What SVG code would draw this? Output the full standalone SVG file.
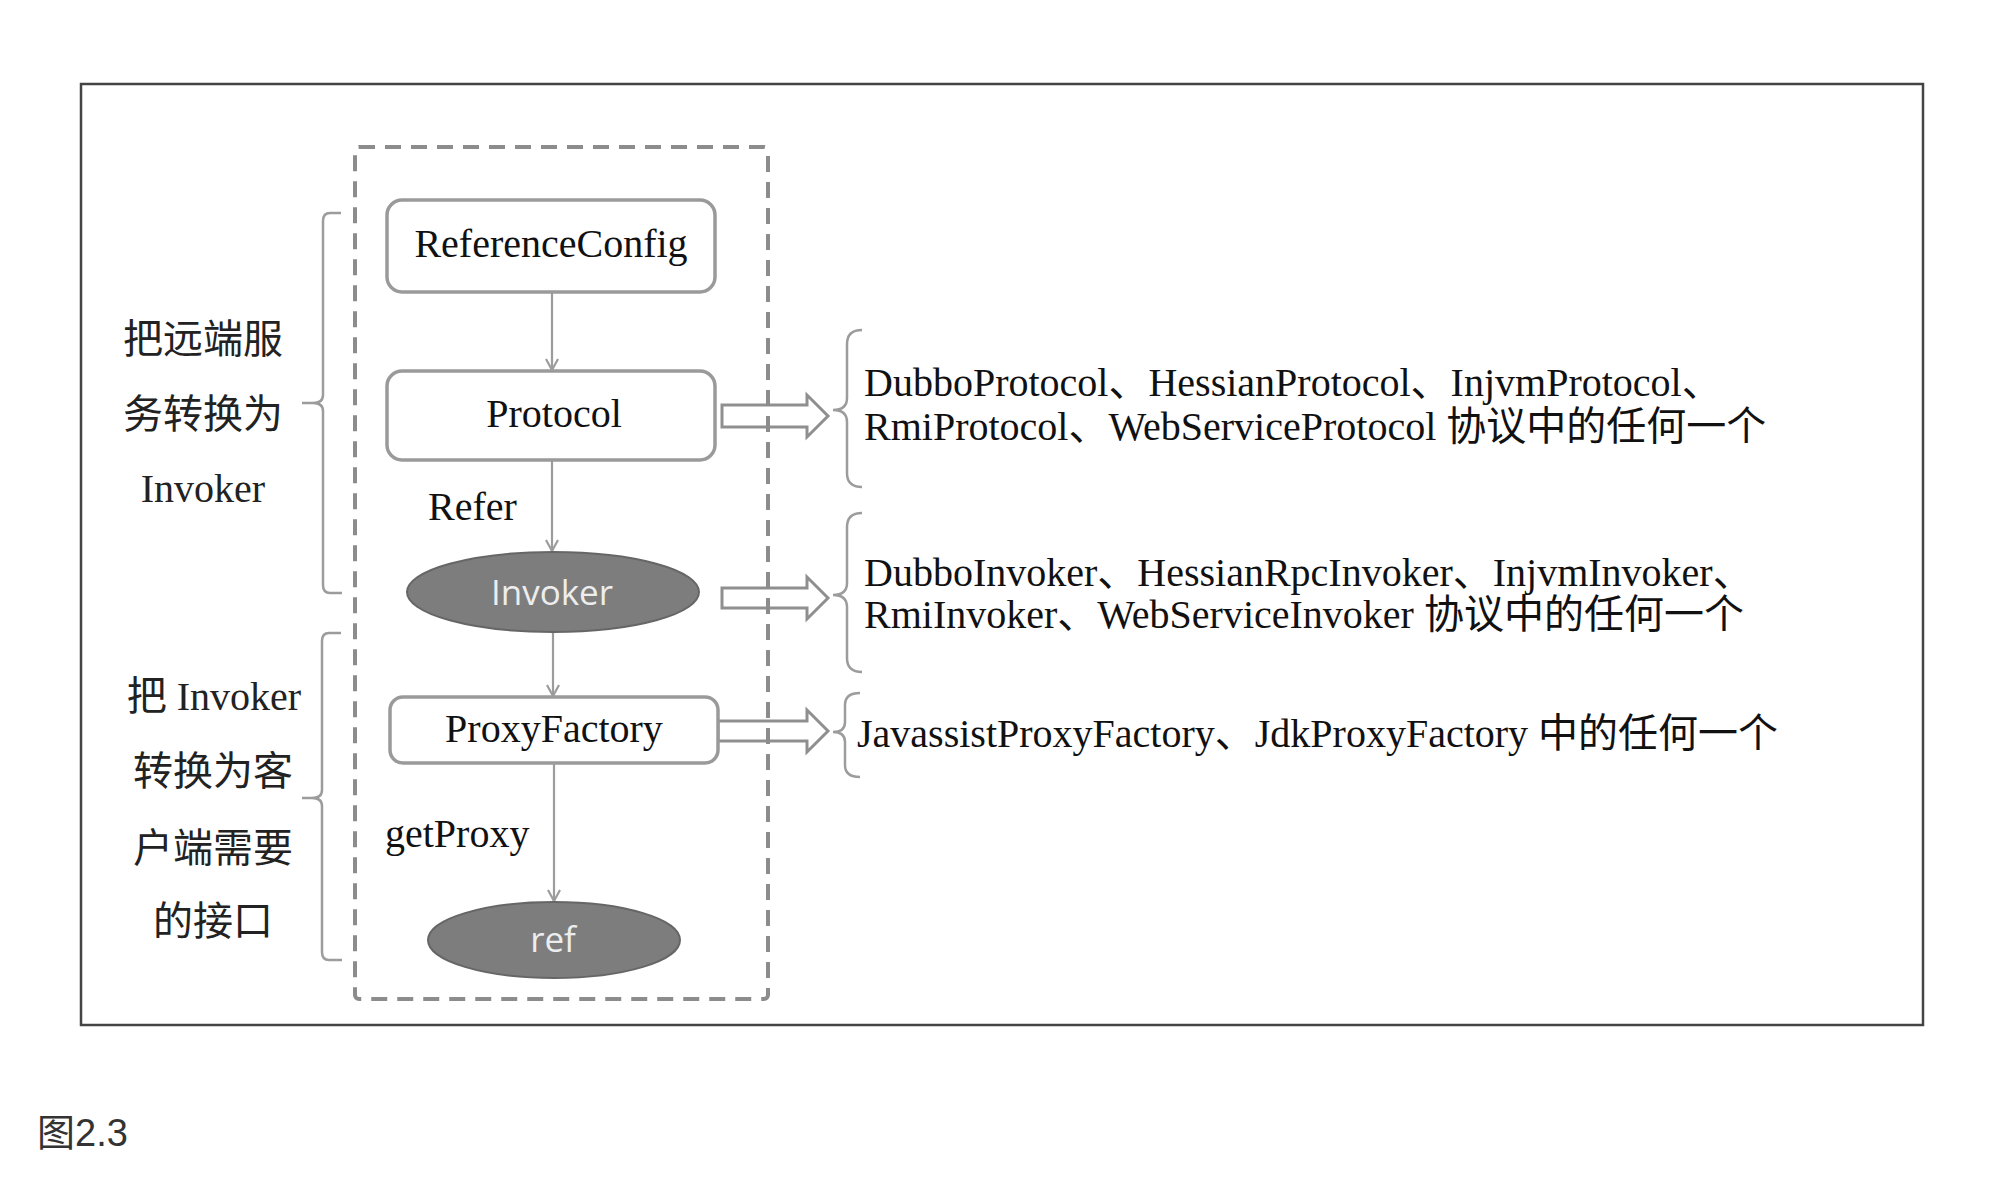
<svg xmlns="http://www.w3.org/2000/svg" width="1992" height="1180" viewBox="0 0 1992 1180">
<style>
  .serif { font-family: "Liberation Serif", "Noto Sans CJK SC", serif; font-size: 40px; fill: #111; }
  .cjk { font-family: "Liberation Serif", "Noto Sans CJK SC", serif; font-size: 40px; fill: #222; }
  .box { fill: #fff; stroke: #9a9a9a; stroke-width: 3.5; }
  .ell { fill: #7d7d7d; stroke: #666; stroke-width: 2; }
  .elltext { font-family: "Open Sans", "Liberation Sans", sans-serif; font-size: 35px; fill: #ededed; }
  .conn { stroke: #9c9c9c; stroke-width: 2.2; fill: none; }
  .brace { stroke: #9c9c9c; stroke-width: 2.5; fill: none; }
  .block { fill: #fff; stroke: #8f8f8f; stroke-width: 3; stroke-linejoin: miter; }
</style>
<defs>
  <marker id="vee" markerUnits="userSpaceOnUse" markerWidth="16" markerHeight="16" viewBox="0 0 16 16" refX="14" refY="8" orient="auto">
    <path d="M3,2 L14,8 L3,14" fill="none" stroke="#9c9c9c" stroke-width="2.2"/>
  </marker>
</defs>
<rect x="0" y="0" width="1992" height="1180" fill="#fff"/>
<rect x="81" y="84" width="1842" height="941" fill="none" stroke="#444" stroke-width="2.5"/>

<g id="left-labels">
  <g id="label-group1">
    <path class="brace" d="M341,213 H330 Q323,213 323,221 V395 Q323,403 313,403 H302 M313,403 Q323,403 323,411 V585 Q323,593 330,593 H342"/>
    <text class="cjk" x="203" y="353" text-anchor="middle">把远端服</text>
    <text class="cjk" x="203" y="428" text-anchor="middle">务转换为</text>
    <text class="cjk" x="203" y="502" text-anchor="middle">Invoker</text>
  </g>
  <g id="label-group2">
    <path class="brace" d="M341,633 H329 Q322,633 322,641 V790 Q322,798 312,798 H302 M312,798 Q322,798 322,806 V952 Q322,960 329,960 H342"/>
    <text class="cjk" x="214" y="710" text-anchor="middle">把 Invoker</text>
    <text class="cjk" x="213" y="785" text-anchor="middle">转换为客</text>
    <text class="cjk" x="213" y="862" text-anchor="middle">户端需要</text>
    <text class="cjk" x="213" y="935" text-anchor="middle">的接口</text>
  </g>
</g>

<g id="connectors">
  <line class="conn" x1="552" y1="292" x2="552" y2="370" marker-end="url(#vee)"/>
  <line class="conn" x1="552" y1="460" x2="552" y2="551" marker-end="url(#vee)"/>
  <line class="conn" x1="553" y1="632" x2="553" y2="696" marker-end="url(#vee)"/>
  <line class="conn" x1="554" y1="763" x2="554" y2="901" marker-end="url(#vee)"/>
  <text class="serif" x="428" y="520">Refer</text>
  <text class="serif" x="385" y="847">getProxy</text>
  <polygon class="block" points="722,405 807,405 807,395 828,416 807,437 807,427 722,427"/>
  <polygon class="block" points="722,588 807,588 807,577 828,598 807,619 807,608 722,608"/>
  <polygon class="block" points="718,721 807,721 807,710 828,731 807,752 807,741 718,741"/>
</g>

<g id="node-referenceconfig">
  <rect class="box" x="387" y="200" width="328" height="92" rx="15"/>
  <text class="serif" x="551" y="257" text-anchor="middle">ReferenceConfig</text>
</g>
<g id="node-protocol">
  <rect class="box" x="387" y="371" width="328" height="89" rx="15"/>
  <text class="serif" x="554" y="427" text-anchor="middle">Protocol</text>
</g>
<g id="node-invoker">
  <ellipse class="ell" cx="553" cy="592" rx="146" ry="40"/>
  <text class="elltext" x="552" y="605" text-anchor="middle">Invoker</text>
</g>
<g id="node-proxyfactory">
  <rect class="box" x="390" y="697" width="328" height="66" rx="13"/>
  <text class="serif" x="554" y="742" text-anchor="middle">ProxyFactory</text>
</g>
<g id="node-ref">
  <ellipse class="ell" cx="554" cy="940" rx="126" ry="38"/>
  <text class="elltext" x="553" y="952" text-anchor="middle" font-size="36">ref</text>
</g>

<g id="dashed-container">
  <rect x="355" y="147" width="413" height="852" rx="4" fill="none" stroke="#8c8c8c" stroke-width="4" stroke-dasharray="16 10"/>
</g>

<g id="impl-protocol">
  <path class="brace" d="M862,330 Q847,330 847,344 V398 Q847,410 833,410 Q847,410 847,422 V473 Q847,487 862,487"/>
  <text class="serif" x="864" y="396">DubboProtocol、HessianProtocol、InjvmProtocol、</text>
  <text class="serif" x="864" y="440">RmiProtocol、WebServiceProtocol 协议中的任何一个</text>
</g>
<g id="impl-invoker">
  <path class="brace" d="M862,513 Q847,513 847,527 V583 Q847,595 833,595 Q847,595 847,607 V658 Q847,672 862,672"/>
  <text class="serif" x="864" y="586">DubboInvoker、HessianRpcInvoker、InjvmInvoker、</text>
  <text class="serif" x="864" y="628">RmiInvoker、WebServiceInvoker 协议中的任何一个</text>
</g>
<g id="impl-proxyfactory">
  <path class="brace" d="M860,693 Q845,693 845,705 V722 Q845,732 833,732 Q845,732 845,742 V765 Q845,777 860,777"/>
  <text class="serif" x="857" y="747">JavassistProxyFactory、JdkProxyFactory 中的任何一个</text>
</g>

<text x="37" y="1146" font-family="Liberation Sans, Noto Sans CJK SC, sans-serif" font-size="38" fill="#333">图2.3</text>
</svg>
